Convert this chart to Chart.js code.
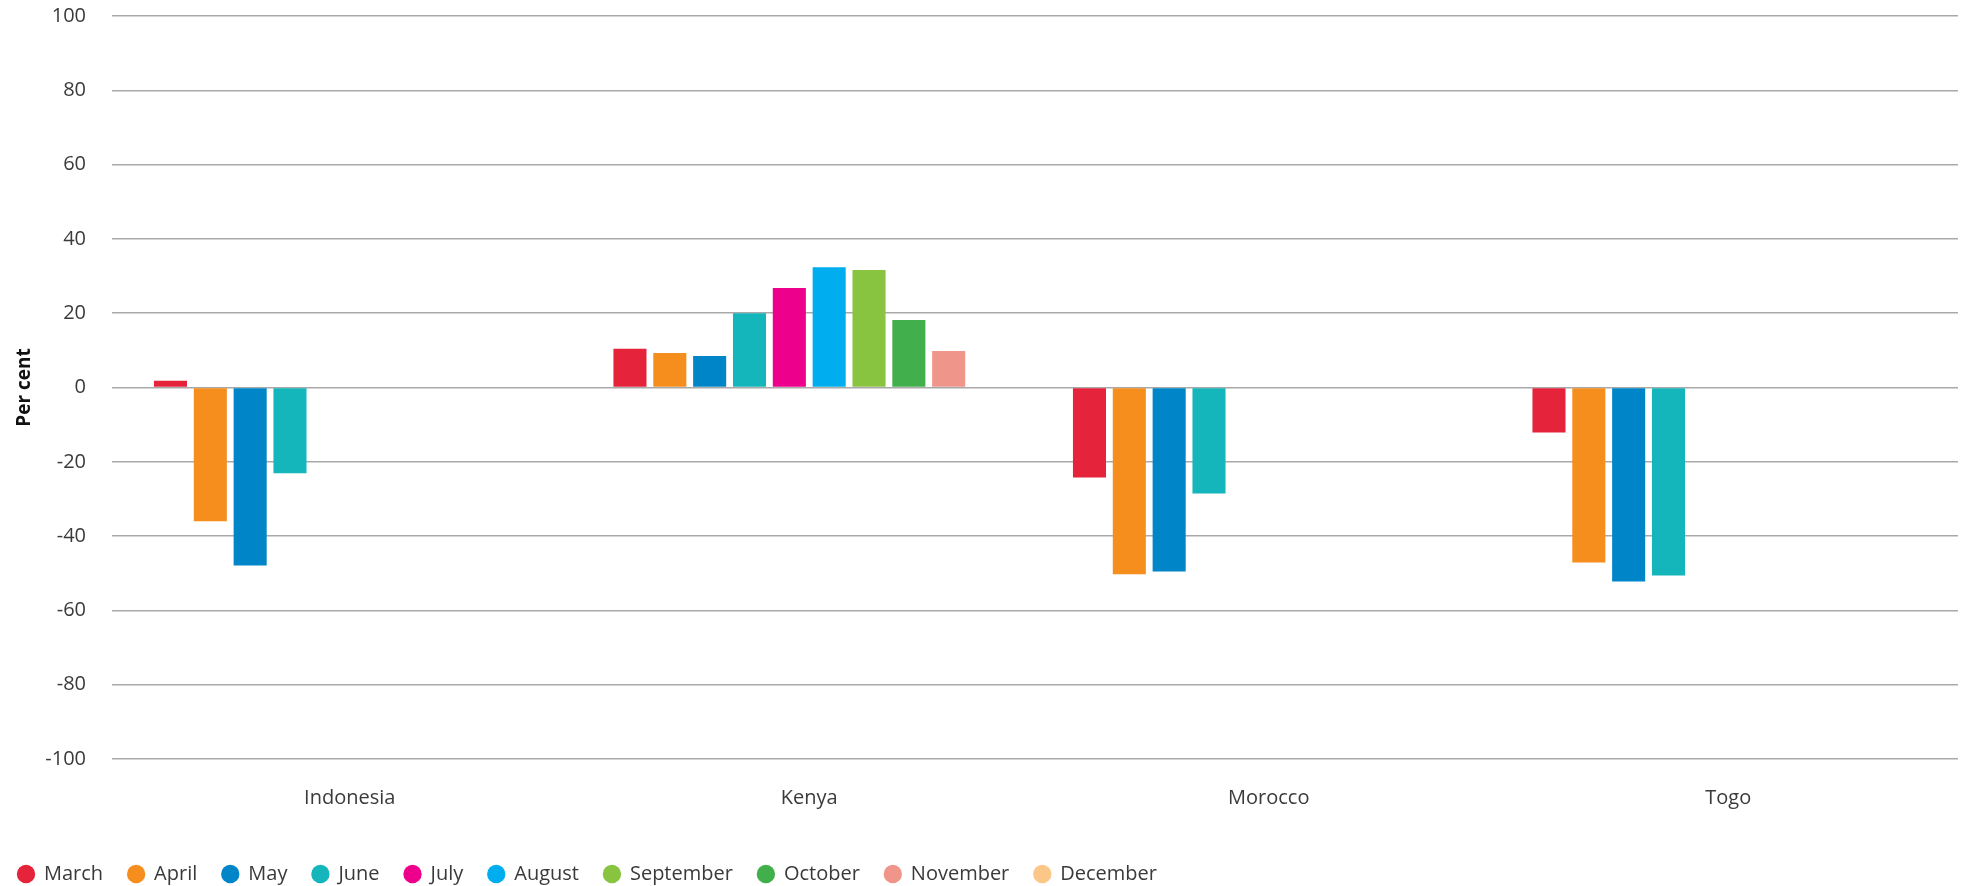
<!DOCTYPE html>
<html>
<head>
<meta charset="utf-8">
<title>Per cent change by month</title>
<script src="https://cdn.jsdelivr.net/npm/chart.js@4.4.1/dist/chart.umd.min.js"></script>
<style>
    html, body { margin: 0; padding: 0; background: #ffffff; }
    #chartBox { position: relative; width: 1968px; height: 886px; }
</style>
</head>
<body>
<div id="chartBox"><canvas id="monthChart"></canvas></div>
<script>
// Categories and tick values
const countries = ['Indonesia', 'Kenya', 'Morocco', 'Togo'];
const yTicks = [-100, -80, -60, -40, -20, 0, 20, 40, 60, 80, 100];

// One array per month, values per country (Indonesia, Kenya, Morocco, Togo)
const march     = [1.8, 10.4, -24.2, -12.1];
const april     = [-36.0, 9.3, -50.3, -47.1];
const may       = [-47.9, 8.5, -49.5, -52.2];
const june      = [-23.1, 20.0, -28.5, -50.6];
const july      = [null, 26.8, null, null];
const august    = [null, 32.4, null, null];
const september = [null, 31.6, null, null];
const october   = [null, 18.2, null, null];
const november  = [null, 9.8, null, null];
const december  = [null, null, null, null];

const monthNames = ['March', 'April', 'May', 'June', 'July', 'August', 'September', 'October', 'November', 'December'];
const monthValues = [march, april, may, june, july, august, september, october, november, december];
const monthColors = ['#E5243B', '#F68E1E', '#0085C8', '#14B6BC', '#EC008C', '#00AEEF', '#88C440', '#41AF4B', '#F0958A', '#FDC689'];

const textColor = '#3a3a3a';
const fontFamily = "'Open Sans', Lato, sans-serif";

const datasets = monthNames.map((name, i) => ({
    label: name,
    data: monthValues[i],
    backgroundColor: monthColors[i],
    borderWidth: 0,
    categoryPercentage: 0.867,
    barPercentage: 0.83
}));

new Chart(document.getElementById('monthChart'), {
    type: 'bar',
    data: {
        labels: countries,
        datasets: datasets
    },
    options: {
        responsive: true,
        maintainAspectRatio: false,
        animation: false,
        layout: {
            padding: { top: 16, left: -7, right: 10, bottom: -8 }
        },
        plugins: {
            tooltip: { enabled: false },
            legend: {
                display: true,
                position: 'bottom',
                align: 'start',
                labels: {
                    usePointStyle: true,
                    pointStyle: 'circle',
                    boxWidth: 16,
                    boxHeight: 13,
                    padding: 25,
                    color: textColor,
                    font: { family: fontFamily, size: 20, weight: 'normal' }
                }
            }
        },
        scales: {
            x: {
                grid: { display: false, drawTicks: false },
                border: { display: false },
                ticks: {
                    color: textColor,
                    padding: 27,
                    font: { family: fontFamily, size: 20, weight: 'normal' }
                },
                afterFit: function(scale) {
                    scale.height = 80;
                }
            },
            y: {
                min: -100,
                max: 100,
                afterBuildTicks: function(scale) {
                    scale.ticks = yTicks.map(v => ({ value: v }));
                },
                grid: {
                    color: '#a9a9a9',
                    lineWidth: 1.5,
                    drawTicks: true,
                    tickLength: 8
                },
                border: { display: false },
                ticks: {
                    color: textColor,
                    padding: 26,
                    font: { family: fontFamily, size: 20, weight: 'normal' }
                },
                title: {
                    display: true,
                    text: 'Per cent',
                    color: '#111111',
                    padding: { top: 20, bottom: 0 },
                    font: { family: fontFamily, size: 19, weight: 'bold' }
                },
                afterFit: function(scale) {
                    scale.width = 127;
                    // keep the plot top at the layout padding instead of label overflow
                    scale.paddingTop = 0;
                    scale.paddingBottom = 0;
                }
            }
        }
    }
});
</script>
</body>
</html>
